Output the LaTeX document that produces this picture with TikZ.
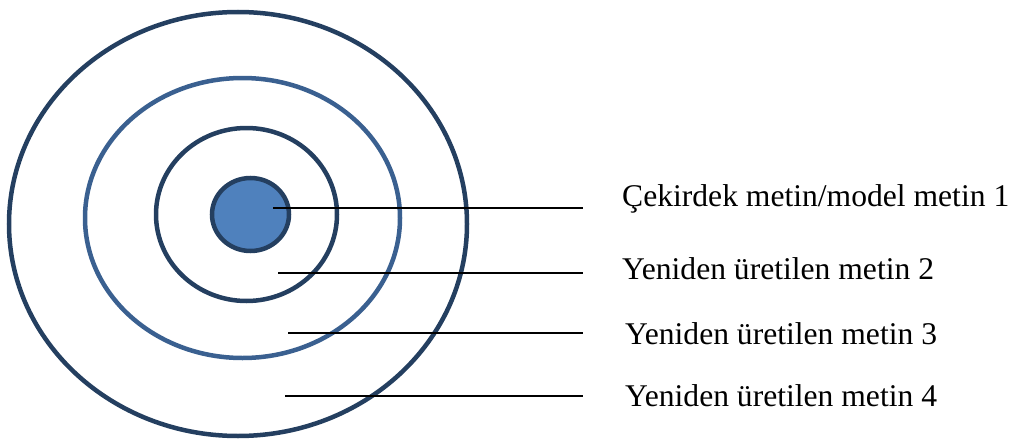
\documentclass[tikz,border=0pt]{standalone}
\usepackage{fontspec}
\setmainfont{Liberation Serif}
\usepackage{tikz}
\usetikzlibrary{shapes.geometric}
\usepackage{xcolor}
\definecolor{RingNavy}{HTML}{243F60}
\definecolor{RingBlue}{HTML}{3A6090}
\definecolor{CoreBlue}{HTML}{4F81BD}

\begin{document}
\begin{tikzpicture}[
    x=1pt, y=-1pt,
    ring/.style={draw=RingNavy, ellipse, line width=4.5pt, inner sep=0pt, outer sep=0pt},
    label/.style={anchor=base west, font=\fontsize{31.6}{36}\selectfont, inner sep=0pt},
    leader/.style={draw=black, line width=1.4pt}
  ]
    \useasboundingbox (0,0) rectangle (1010,439);

    % Rings
    \node[ring, minimum width=458pt, minimum height=424pt] (outer) at (238,224) {};
    \node[ring, draw=RingBlue, minimum width=315pt, minimum height=280pt] (middle) at (242.5,218) {};
    \node[ring, minimum width=181pt, minimum height=173pt] (inner) at (246.5,214.5) {};
    \node[ring, fill=CoreBlue, minimum width=77pt, minimum height=73pt] (core) at (250.5,214.5) {};

    % Labels
    \node[label] (t1) at (622,206) {Çekirdek metin/model metin 1};
    \node[label] (t2) at (622,279) {Yeniden üretilen metin 2};
    \node[label] (t3) at (625,344) {Yeniden üretilen metin 3};
    \node[label] (t4) at (625,406) {Yeniden üretilen metin 4};

    % Leader lines
    \coordinate (s1) at (273,208);  \coordinate (e1) at (583,208);
    \coordinate (s2) at (278,273);  \coordinate (e2) at (583,273);
    \coordinate (s3) at (288,333);  \coordinate (e3) at (583,333);
    \coordinate (s4) at (285,396);  \coordinate (e4) at (583,396);
    \draw[leader] (s1) -- (e1);
    \draw[leader] (s2) -- (e2);
    \draw[leader] (s3) -- (e3);
    \draw[leader] (s4) -- (e4);
  \end{tikzpicture}
\end{document}
